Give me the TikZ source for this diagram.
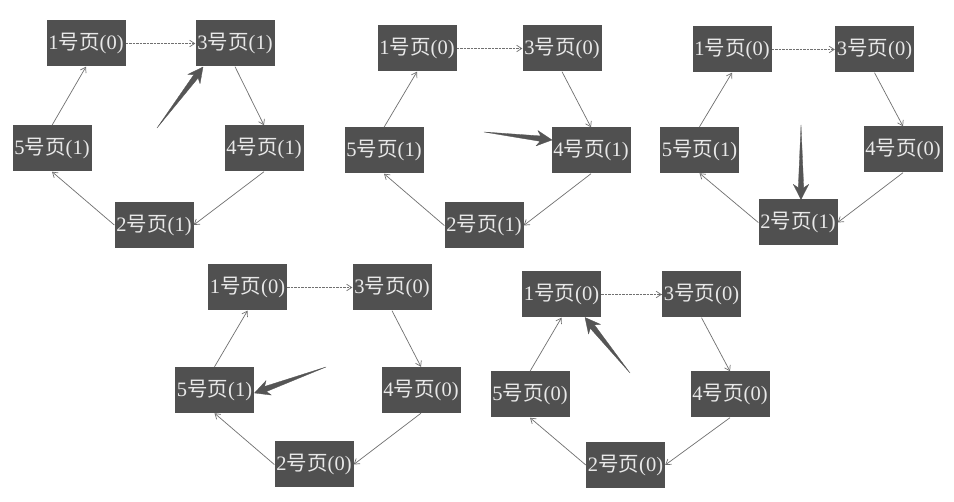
\documentclass[tikz,border=0pt]{standalone}
\usepackage{fontspec}
\setmainfont{Liberation Serif}
\newfontfamily\cjk{Noto Sans CJK SC}
\usetikzlibrary{arrows.meta,calc}

\definecolor{boxgray}{HTML}{505050}
\definecolor{boxtext}{HTML}{E8E8E8}
\definecolor{linkgray}{HTML}{707070}
\definecolor{ptrgray}{HTML}{555555}

% page label: number, then reference bit
\newcommand\pagelabel[2]{#1{\cjk 号页}(#2)}

\tikzset{
  pgbox/.style={fill=boxgray, text=boxtext, minimum width=79pt, minimum height=46pt,
    inner sep=0pt, font=\fontsize{20.5}{21}\selectfont},
  link/.style={draw=linkgray, line width=0.7pt, -{Straight Barb[length=5pt,width=6.5pt]}},
  toplink/.style={link, dash pattern=on 2.5pt off 1pt},
  pointer/.style={fill=ptrgray, draw=ptrgray, line width=0.3pt, line join=round}
}

% tapered clock-hand pointer from #1 (tail) to #2 (tip)
\newcommand\clockhand[2]{%
  \path[pointer] (#1) -- ($(#2)!12pt!13:(#1)$) -- ($(#2)!17pt!27:(#1)$) -- (#2)
    -- ($(#2)!17pt!-27:(#1)$) -- ($(#2)!12pt!-13:(#1)$) -- cycle;}

\begin{document}
\begin{tikzpicture}[x=1pt,y=-1pt]
\useasboundingbox[fill=white] (0,0) rectangle (954,502);

% first state
\node[pgbox] (a1) at (86,43.5) {\pagelabel{1}{0}};
\node[pgbox] (a3) at (235,43.5) {\pagelabel{3}{1}};
\node[pgbox] (a5) at (52,148.5) {\pagelabel{5}{1}};
\node[pgbox] (a4) at (264,148.5) {\pagelabel{4}{1}};
\node[pgbox] (a2) at (154,225) {\pagelabel{2}{1}};
\coordinate (at) at (157,128);
\coordinate (ah) at (203,67);

% second state
\node[pgbox] (b1) at (417,48.5) {\pagelabel{1}{0}};
\node[pgbox] (b3) at (562,48.5) {\pagelabel{3}{0}};
\node[pgbox] (b5) at (384,150.5) {\pagelabel{5}{1}};
\node[pgbox] (b4) at (591,150.5) {\pagelabel{4}{1}};
\node[pgbox] (b2) at (484,225.5) {\pagelabel{2}{1}};
\coordinate (bt) at (484,132);
\coordinate (bh) at (552,140);

% third state
\node[pgbox] (c1) at (732,49.5) {\pagelabel{1}{0}};
\node[pgbox] (c3) at (874.5,49.5) {\pagelabel{3}{0}};
\node[pgbox] (c5) at (699.5,150) {\pagelabel{5}{1}};
\node[pgbox] (c4) at (903,149.5) {\pagelabel{4}{0}};
\node[pgbox] (c2) at (798,222.5) {\pagelabel{2}{1}};
\coordinate (ct) at (801,125);
\coordinate (ch) at (801,199.5);

% fourth state
\node[pgbox] (d1) at (247.5,287.5) {\pagelabel{1}{0}};
\node[pgbox] (d3) at (392,287.5) {\pagelabel{3}{0}};
\node[pgbox] (d5) at (214.5,390) {\pagelabel{5}{1}};
\node[pgbox] (d4) at (421,390) {\pagelabel{4}{0}};
\node[pgbox] (d2) at (314,464.5) {\pagelabel{2}{0}};
\coordinate (dt) at (326,367);
\coordinate (dh) at (254.5,393);

% fifth state
\node[pgbox] (e1) at (561.5,294.5) {\pagelabel{1}{0}};
\node[pgbox] (e3) at (701.5,294.5) {\pagelabel{3}{0}};
\node[pgbox] (e5) at (530,394.5) {\pagelabel{5}{0}};
\node[pgbox] (e4) at (730,394.5) {\pagelabel{4}{0}};
\node[pgbox] (e2) at (625.5,465) {\pagelabel{2}{0}};
\coordinate (et) at (630,373);
\coordinate (eh) at (585,317.5);

% circular list links
\foreach \p in {a,b,c,d,e}{
  \draw[toplink] (\p1.east) -- (\p3.west);
  \draw[link] (\p3.south) -- (\p4.north);
  \draw[link] (\p4.south) -- (\p2.east);
  \draw[link] (\p2.west) -- (\p5.south);
  \draw[link] (\p5.north) -- (\p1.south);
}

% clock hands
\clockhand{at}{ah}
\clockhand{bt}{bh}
\clockhand{ct}{ch}
\clockhand{dt}{dh}
\clockhand{et}{eh}
\end{tikzpicture}
\end{document}
